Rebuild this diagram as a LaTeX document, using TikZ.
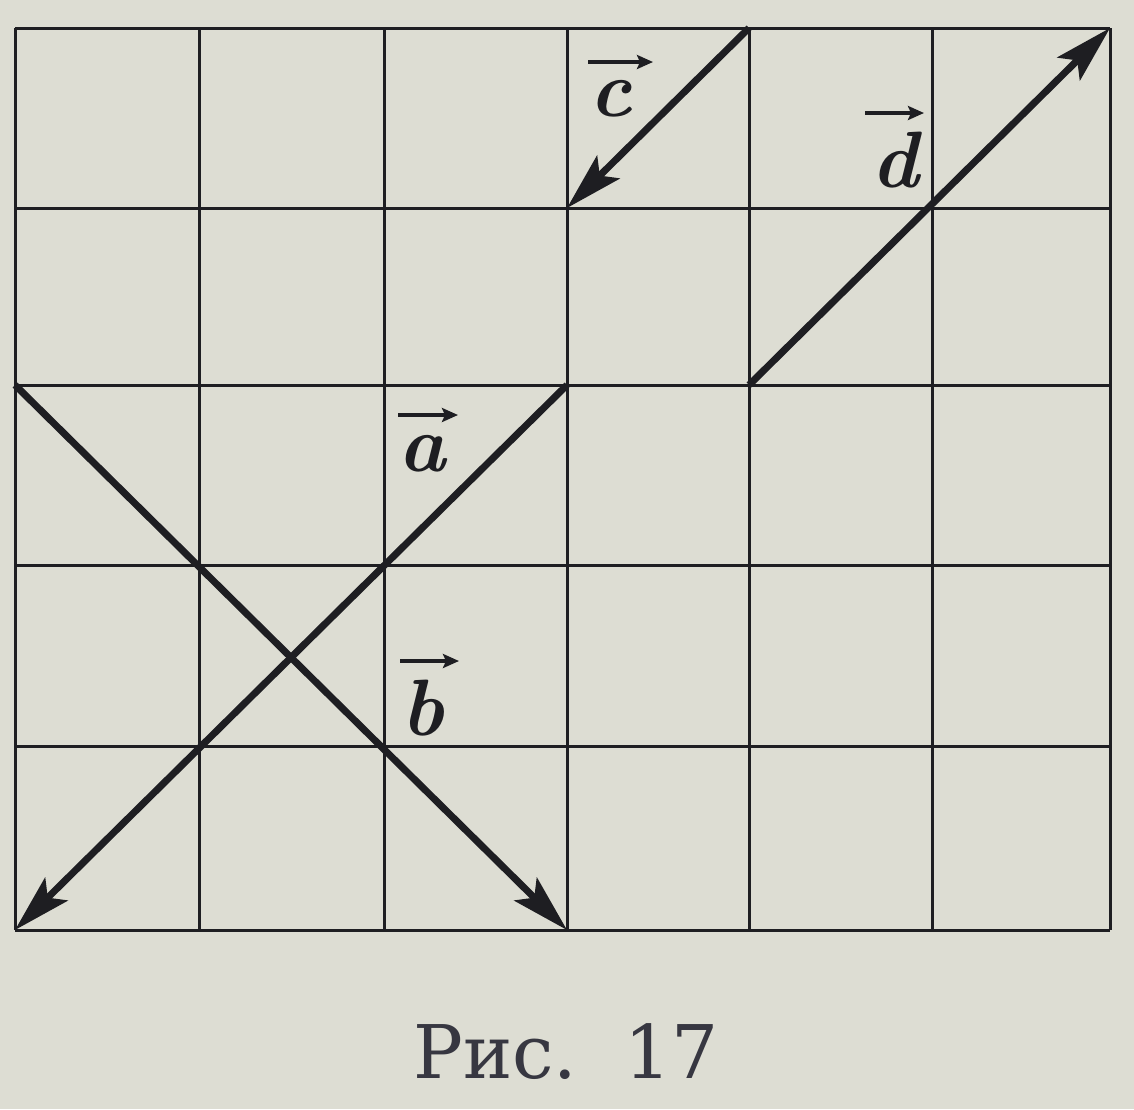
\documentclass[tikz,border=0pt]{standalone}
\usepackage{fontspec}
\newfontfamily\capfont{DejaVu Serif}
\usetikzlibrary{arrows.meta}
\definecolor{paper}{RGB}{221,221,211}
\definecolor{ink}{RGB}{30,30,34}
\definecolor{capink}{RGB}{55,55,65}
\tikzset{
  gridline/.style={ink, line width=3pt},
  vecline/.style={ink, line width=7pt, line cap=butt, -{Stealth[length=58pt,width=32pt,inset=12pt]}},
  veclabel/.style={ink, font=\fontsize{80}{80}\selectfont\bfseries\itshape, inner sep=0pt},
  labarrow/.style={ink, line width=4pt, -{Stealth[length=16pt,width=14pt,inset=3pt]}},
  captext/.style={capink, font=\capfont\fontsize{74}{74}\selectfont, inner sep=0pt}
}
\begin{document}
\begin{tikzpicture}[x=1pt,y=-1pt]
\fill[paper] (0,0) rectangle (1134,1109);
\useasboundingbox (0,0) rectangle (1134,1109);
% grid coordinates
\foreach \i/\x in {0/15,1/199,2/384,3/567,4/749,5/932,6/1110}{
  \foreach \j/\y in {0/930,1/746,2/565,3/385,4/208,5/28}{
    \coordinate (p-\i-\j) at (\x,\y);
  }
}
\foreach \i in {0,...,6}{\draw[gridline] (p-\i-0) -- (p-\i-5);}
\foreach \j in {0,...,5}{\draw[gridline] (p-0-\j) -- (p-6-\j);}
% vectors
\draw[vecline] (p-3-3) -- (p-0-0);
\draw[vecline] (p-0-3) -- (p-3-0);
\draw[vecline] (p-4-5) -- (p-3-4);
\draw[vecline] (p-4-3) -- (p-6-5);
% labels
\node[veclabel] (la) at (422,454) {a};
\node[veclabel] (lb) at (423,708) {b};
\node[veclabel] (lc) at (611,99) {c};
\node[veclabel] (ld) at (895,160) {d};
\coordinate (la1) at (398,415); \coordinate (la2) at (458,415);
\coordinate (lb1) at (400,661); \coordinate (lb2) at (459,661);
\coordinate (lc1) at (588,62);  \coordinate (lc2) at (653,62);
\coordinate (ld1) at (865,113); \coordinate (ld2) at (924,113);
\draw[labarrow] (la1) -- (la2);
\draw[labarrow] (lb1) -- (lb2);
\draw[labarrow] (lc1) -- (lc2);
\draw[labarrow] (ld1) -- (ld2);
% caption
\node[captext] (cap) at (566,1052) {Рис.\ \ 17};
\end{tikzpicture}
\end{document}
